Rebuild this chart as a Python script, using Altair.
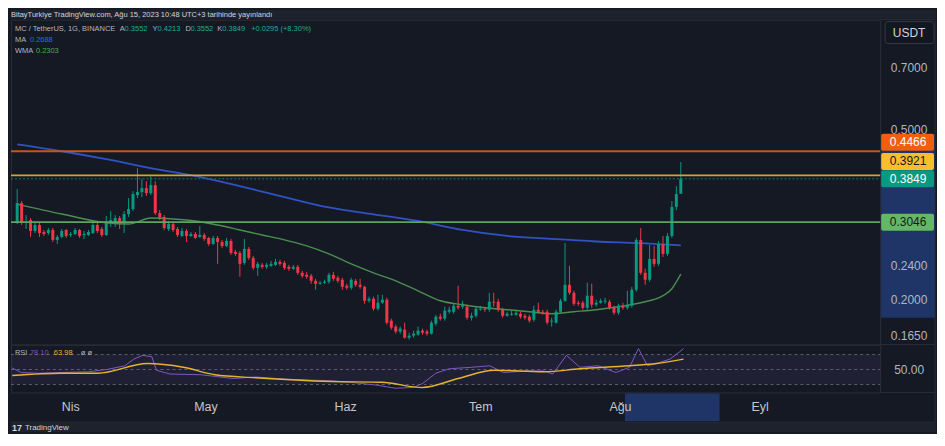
import altair as alt
import pandas as pd
import numpy as np

# ---------------- data ----------------
start_day = "2023-03-19"   # first daily candle

opens = [0.3033, 0.3377, 0.3033, 0.3082, 0.2905, 0.3000, 0.2889, 0.2874, 0.2921, 0.2768,
         0.2813, 0.2921, 0.2843, 0.2858, 0.2921, 0.2843, 0.2843, 0.2874, 0.3000, 0.2936,
         0.2843, 0.3016, 0.3049, 0.3115, 0.3033, 0.3183, 0.3270, 0.3526, 0.3583, 0.3661,
         0.3564, 0.3720, 0.3200, 0.3132, 0.2936, 0.3016, 0.2936, 0.2828, 0.2905, 0.2828,
         0.2858, 0.2813, 0.2843, 0.2798, 0.2709, 0.2798, 0.2738, 0.2680, 0.2753, 0.2595,
         0.2581, 0.2446, 0.2637, 0.2513, 0.2381, 0.2420, 0.2394, 0.2407, 0.2420, 0.2459,
         0.2446, 0.2394, 0.2369, 0.2394, 0.2318, 0.2294, 0.2281, 0.2220, 0.2185, 0.2197,
         0.2209, 0.2294, 0.2257, 0.2233, 0.2162, 0.2139, 0.2220, 0.2173, 0.2150, 0.1994,
         0.2016, 0.1910, 0.1973, 0.2005, 0.1791, 0.1734, 0.1688, 0.1706, 0.1634, 0.1652,
         0.1661, 0.1697, 0.1688, 0.1670, 0.1762, 0.1830, 0.1810, 0.1879, 0.1879, 0.1941,
         0.1931, 0.1931, 0.1820, 0.1839, 0.1900, 0.1910, 0.1900, 0.1983, 0.1983, 0.1900,
         0.1839, 0.1849, 0.1849, 0.1859, 0.1839, 0.1830, 0.1800, 0.1900, 0.1879, 0.1879,
         0.1781, 0.1772, 0.1879, 0.1994, 0.2173, 0.2082, 0.1973, 0.1973, 0.1920, 0.2049,
         0.1952, 0.1973, 0.1983, 0.1983, 0.1920, 0.1869, 0.1941, 0.1920, 0.1941, 0.2116,
         0.2768, 0.2318, 0.2233, 0.2499, 0.2433, 0.2709, 0.2567, 0.2828, 0.3305, 0.3552]

closes = [0.3377, 0.3033, 0.3049, 0.2905, 0.3000, 0.2874, 0.2858, 0.2921, 0.2768, 0.2813,
          0.2905, 0.2828, 0.2858, 0.2921, 0.2828, 0.2858, 0.2889, 0.3000, 0.2905, 0.2843,
          0.3033, 0.3082, 0.3115, 0.3016, 0.3183, 0.3270, 0.3545, 0.3583, 0.3661, 0.3564,
          0.3720, 0.3200, 0.3115, 0.2952, 0.3016, 0.2921, 0.2843, 0.2905, 0.2828, 0.2858,
          0.2798, 0.2843, 0.2783, 0.2709, 0.2798, 0.2738, 0.2680, 0.2753, 0.2581, 0.2567,
          0.2433, 0.2637, 0.2513, 0.2381, 0.2433, 0.2394, 0.2420, 0.2433, 0.2459, 0.2433,
          0.2381, 0.2369, 0.2394, 0.2318, 0.2281, 0.2269, 0.2220, 0.2185, 0.2197, 0.2209,
          0.2294, 0.2245, 0.2220, 0.2150, 0.2139, 0.2233, 0.2173, 0.2150, 0.1994, 0.2016,
          0.1910, 0.1973, 0.2005, 0.1772, 0.1725, 0.1688, 0.1716, 0.1634, 0.1652, 0.1670,
          0.1697, 0.1679, 0.1670, 0.1772, 0.1830, 0.1810, 0.1890, 0.1900, 0.1941, 0.1920,
          0.1962, 0.1820, 0.1839, 0.1910, 0.1910, 0.1900, 0.1983, 0.1973, 0.1900, 0.1839,
          0.1859, 0.1859, 0.1869, 0.1830, 0.1820, 0.1791, 0.1900, 0.1879, 0.1869, 0.1772,
          0.1791, 0.1879, 0.1994, 0.2173, 0.2082, 0.1962, 0.1962, 0.1920, 0.2049, 0.1952,
          0.1973, 0.1994, 0.1994, 0.1920, 0.1869, 0.1941, 0.1920, 0.1952, 0.2116, 0.2768,
          0.2318, 0.2233, 0.2499, 0.2433, 0.2709, 0.2567, 0.2828, 0.3305, 0.3545, 0.3849]

highs = [0.3641, 0.3414, 0.3166, 0.3115, 0.3033, 0.3033, 0.2921, 0.2952, 0.2952, 0.2843,
         0.2936, 0.2936, 0.2889, 0.2952, 0.2936, 0.2905, 0.2921, 0.3066, 0.3033, 0.2968,
         0.3149, 0.3235, 0.3166, 0.3149, 0.3235, 0.3469, 0.3602, 0.4076, 0.3842, 0.3801,
         0.3904, 0.3801, 0.3252, 0.3166, 0.3066, 0.3049, 0.2968, 0.2952, 0.2936, 0.2889,
         0.2889, 0.2984, 0.2874, 0.2813, 0.2828, 0.2828, 0.2768, 0.2798, 0.2783, 0.2623,
         0.2609, 0.2783, 0.2665, 0.2540, 0.2459, 0.2446, 0.2446, 0.2472, 0.2499, 0.2486,
         0.2472, 0.2420, 0.2420, 0.2420, 0.2343, 0.2331, 0.2306, 0.2245, 0.2220, 0.2233,
         0.2318, 0.2331, 0.2281, 0.2257, 0.2185, 0.2257, 0.2245, 0.2245, 0.2162, 0.2038,
         0.2038, 0.2060, 0.2060, 0.2027, 0.1810, 0.1753, 0.1734, 0.1772, 0.1679, 0.1697,
         0.1734, 0.1716, 0.1706, 0.1791, 0.1849, 0.1859, 0.1931, 0.1931, 0.1962, 0.2162,
         0.1994, 0.1952, 0.1869, 0.1931, 0.1941, 0.1931, 0.2082, 0.2082, 0.2016, 0.1920,
         0.1879, 0.1890, 0.1900, 0.1879, 0.1859, 0.1849, 0.1941, 0.1973, 0.1900, 0.1900,
         0.1820, 0.1900, 0.2016, 0.2723, 0.2407, 0.2104, 0.1994, 0.1994, 0.2197, 0.2185,
         0.2005, 0.2016, 0.2027, 0.2005, 0.1941, 0.1962, 0.1973, 0.2104, 0.2150, 0.2798,
         0.2952, 0.2369, 0.2694, 0.2680, 0.2753, 0.2828, 0.2874, 0.3414, 0.3700, 0.4213]

lows = [0.3016, 0.3000, 0.2936, 0.2813, 0.2874, 0.2813, 0.2828, 0.2843, 0.2738, 0.2709,
        0.2798, 0.2798, 0.2813, 0.2843, 0.2798, 0.2783, 0.2828, 0.2858, 0.2874, 0.2813,
        0.2828, 0.2968, 0.2968, 0.2936, 0.2874, 0.3132, 0.3235, 0.3469, 0.3488, 0.3507,
        0.3526, 0.3166, 0.3082, 0.2921, 0.2905, 0.2889, 0.2813, 0.2813, 0.2738, 0.2813,
        0.2783, 0.2798, 0.2753, 0.2680, 0.2694, 0.2433, 0.2651, 0.2665, 0.2553, 0.2540,
        0.2269, 0.2420, 0.2486, 0.2356, 0.2281, 0.2369, 0.2369, 0.2394, 0.2407, 0.2407,
        0.2356, 0.2343, 0.2356, 0.2294, 0.2257, 0.2245, 0.2185, 0.2116, 0.2173, 0.2185,
        0.2185, 0.2220, 0.2197, 0.2116, 0.2116, 0.2116, 0.2150, 0.2127, 0.1962, 0.1973,
        0.1890, 0.1890, 0.1962, 0.1753, 0.1706, 0.1670, 0.1670, 0.1626, 0.1617, 0.1634,
        0.1652, 0.1661, 0.1652, 0.1661, 0.1743, 0.1791, 0.1791, 0.1859, 0.1859, 0.1900,
        0.1910, 0.1800, 0.1791, 0.1820, 0.1890, 0.1879, 0.1879, 0.1931, 0.1879, 0.1820,
        0.1830, 0.1839, 0.1839, 0.1810, 0.1800, 0.1772, 0.1781, 0.1859, 0.1849, 0.1753,
        0.1734, 0.1762, 0.1869, 0.1983, 0.2060, 0.1941, 0.1941, 0.1900, 0.1900, 0.1920,
        0.1931, 0.1962, 0.1962, 0.1900, 0.1849, 0.1849, 0.1900, 0.1900, 0.1920, 0.2093,
        0.2294, 0.2173, 0.2209, 0.2394, 0.2407, 0.2526, 0.2540, 0.2798, 0.3252, 0.3552]

# moving averages (day index since start, value)
ma_idx = [0, 10, 20, 30, 40, 50, 60, 70, 80, 90, 100, 110, 120, 130, 140, 149]
ma_vals = [0.4637, 0.4466, 0.4278, 0.4076, 0.3904, 0.3700, 0.3488, 0.3298, 0.3178, 0.3066,
           0.2921, 0.2828, 0.2783, 0.2745, 0.2720, 0.2688]
wma_idx = [0, 10, 20, 25, 30, 35, 40, 45, 50, 55, 60, 65, 70, 75, 80, 85, 90, 95, 100, 105,
           110, 115, 120, 125, 130, 135, 140, 145, 147, 148, 149]
wma_vals = [0.3359, 0.3183, 0.3036, 0.3016, 0.3115, 0.3099, 0.3066, 0.3000, 0.2921, 0.2843,
            0.2768, 0.2680, 0.2567, 0.2433, 0.2318, 0.2220, 0.2104, 0.1994, 0.1952, 0.1920,
            0.1900, 0.1879, 0.1859, 0.1879, 0.1900, 0.1931, 0.1973, 0.2049, 0.2127, 0.2209, 0.2303]

# RSI pane
rsi_idx = [0, 2, 6, 11, 17, 21, 25, 27, 29, 31, 32, 35, 42, 49, 54, 61, 70, 75, 81, 85,
           89, 91, 94, 97, 102, 106, 109, 114, 118, 120, 123, 126, 130, 134, 137, 139, 141, 143, 146, 148, 149]
rsi_vals = [52, 46, 45, 46, 47, 50, 55, 64, 69, 67, 49, 44, 43, 38, 40, 37, 35, 33, 29, 25,
            26, 31, 45, 51, 53, 55, 46, 48, 48, 44, 69, 53, 55, 46, 53, 78, 55, 58, 64, 73, 78.1]
rsima_idx = [0, 11, 19, 30, 38, 45, 54, 71, 82, 91, 99, 107, 118, 126, 137, 143, 149]
rsima_vals = [42, 45, 45, 58, 53, 43, 39, 34, 33, 26, 38, 49, 47, 51, 55, 58, 63.98]
rsi_levels = [70, 50, 30]

# horizontal drawn levels + price badges
level_prices = [0.4466, 0.3921, 0.3849, 0.3046]
level_line_colors = ["#c4561c", "#d3a52a", "#0b7f6d", "#5ea561"]
badge_fills = ["#ef5f0e", "#f9bd2e", "#089981", "#64b767"]
badge_text_colors = ["#ffffff", "#131722", "#ffffff", "#131722"]

# axes
price_ticks = [0.7, 0.5, 0.24, 0.2, 0.165]
price_tick_labels = ["0.7000", "0.5000", "0.2400", "0.2000", "0.1650"]
month_starts = ["2023-04-01", "2023-05-01", "2023-06-01", "2023-07-01", "2023-08-01", "2023-09-01"]
month_labels = ["Nis", "May", "Haz", "Tem", "Ağu", "Eyl"]

# selected drawing range (highlight on the axes)
sel_dates = ["2023-08-02", "2023-08-23"]
sel_prices = [0.1820, 0.4894]

# ---------------- helpers ----------------
def ms(d):
    return int(pd.Timestamp(d).timestamp() * 1000)

dates = pd.date_range(start_day, periods=len(opens), freq="D")
date_ms = [ms(d) for d in dates]

FONT = "Liberation Sans"
BG = "#151924"
OUTER = "#1e222d"
GRID = "#1f2330"
BORDER = "#2a2e39"
TXT = "#b2b5be"
UP, DOWN = "#089981", "#f23645"

W, H_PRICE, H_RSI = 872, 326, 48

apr1 = pd.Timestamp("2023-04-01")
xdom = [int((apr1 - pd.Timedelta(days=13.274)).timestamp() * 1000),
        int((apr1 + pd.Timedelta(days=179.646)).timestamp() * 1000)]
xscale = alt.Scale(type="utc", domain=xdom, nice=False)
yscale = alt.Scale(type="log", domain=[0.1574, 0.9082], nice=False)
rscale = alt.Scale(domain=[19.33, 83.33], nice=False, zero=False)

month_ms = [ms(d) for d in month_starts]
dummy = pd.DataFrame({"k": [0]})


def xenc(field="date"):
    return alt.X(f"{field}:T", scale=xscale, axis=None, title=None)


def txt(text, x, y, color, size=7.5, weight="normal", align="left"):
    return alt.Chart(dummy).mark_text(
        text=text, color=color, fontSize=size, fontWeight=weight, align=align,
        baseline="middle", font=FONT
    ).encode(x=alt.value(x), y=alt.value(y))


def box(x, x2, y, y2, fill, stroke=None, radius=0):
    kw = dict(fill=fill, cornerRadius=radius)
    if stroke:
        kw.update(stroke=stroke, strokeWidth=1)
    return alt.Chart(dummy).mark_rect(**kw).encode(
        x=alt.value(x), x2=alt.value(x2), y=alt.value(y), y2=alt.value(y2))


def hline(x, x2, y, color=BORDER):
    return alt.Chart(dummy).mark_rule(color=color, strokeWidth=1).encode(
        x=alt.value(x), x2=alt.value(x2), y=alt.value(y))


# ---------------- price pane ----------------
candles = pd.DataFrame({"date": date_ms, "open": opens, "high": highs,
                        "low": lows, "close": closes})
candles["dir"] = np.where(candles["close"] >= candles["open"], "up", "down")
color = alt.Color("dir:N", scale=alt.Scale(domain=["up", "down"], range=[UP, DOWN]), legend=None)

wicks = alt.Chart(candles).mark_rule(strokeWidth=1).encode(
    x=alt.X("date:T", scale=xscale, title=None,
            axis=alt.Axis(values=month_ms, labels=False, ticks=False, domain=False,
                          grid=True, gridColor=GRID, gridWidth=1, title=None)),
    y=alt.Y("low:Q", scale=yscale, title=None,
            axis=alt.Axis(values=price_ticks, labels=False, ticks=False, domain=False,
                          grid=True, gridColor=GRID, gridWidth=1, title=None, orient="right")),
    y2="high:Q",
    color=color,
)
bodies = alt.Chart(candles).mark_bar(size=3).encode(
    x=xenc(), y=alt.Y("open:Q", scale=yscale, axis=None), y2="close:Q", color=color)

ma_df = pd.DataFrame({"date": [date_ms[i] for i in ma_idx], "v": ma_vals})
wma_df = pd.DataFrame({"date": [date_ms[i] for i in wma_idx], "v": wma_vals})
ma_line = alt.Chart(ma_df).mark_line(color="#2f52c4", strokeWidth=1.8, interpolate="monotone").encode(
    x=xenc(), y=alt.Y("v:Q", scale=yscale, axis=None))
wma_line = alt.Chart(wma_df).mark_line(color="#4a8f50", strokeWidth=1.4, interpolate="monotone").encode(
    x=xenc(), y=alt.Y("v:Q", scale=yscale, axis=None))

sel_df = pd.DataFrame({"p1": [sel_prices[0]], "p2": [sel_prices[1]],
                       "d1": [ms(sel_dates[0])], "d2": [ms(sel_dates[1])]})
price_sel = alt.Chart(sel_df).mark_rect(fill="#1f3568").encode(
    x=alt.value(873), x2=alt.value(927),
    y=alt.Y("p2:Q", scale=yscale, axis=None), y2="p1:Q")

level_layers = []
badge_shift = [-9, -14, 0, 0]
for p, lc, i in zip(level_prices, level_line_colors, range(4)):
    df = pd.DataFrame({"p": [p]})
    if i == 2:
        mk = alt.Chart(df).mark_rule(color=lc, strokeWidth=1, strokeDash=[2, 2])
    else:
        mk = alt.Chart(df).mark_rule(color=lc, strokeWidth=1.8)
    level_layers.append(mk.encode(x=alt.value(0), x2=alt.value(W),
                                  y=alt.Y("p:Q", scale=yscale, axis=None)))

tick_df = pd.DataFrame({"p": price_ticks, "t": price_tick_labels})
tick_text = alt.Chart(tick_df).mark_text(color=TXT, fontSize=12, font=FONT, align="center",
                                         baseline="middle").encode(
    x=alt.value(901), y=alt.Y("p:Q", scale=yscale, axis=None), text="t:N")

badge_layers = []
for p, f, tc, sh in zip(level_prices, badge_fills, badge_text_colors, badge_shift):
    df = pd.DataFrame({"p": [p], "t": [f"{p:.4f}"]})
    badge_layers.append(alt.Chart(df).mark_rect(fill=f, cornerRadius=2, yOffset=sh - 8.5,
                                                y2Offset=sh + 8.5).encode(
        x=alt.value(873), x2=alt.value(926), y=alt.Y("p:Q", scale=yscale, axis=None), y2="p:Q"))
    badge_layers.append(alt.Chart(df).mark_text(color=tc, fontSize=12, font=FONT, align="center",
                                                baseline="middle", dy=sh).encode(
        x=alt.value(900), y=alt.Y("p:Q", scale=yscale, axis=None), text="t:N"))

TEAL = "#22ab94"
legend_layers = [
    box(0, 928, -10, -1, OUTER),
    txt("BitayTurkiye TradingView.com, Ağu 15, 2023 10:48 UTC+3 tarihinde yayınlandı",
        0, -5, "#d1d4dc", size=7.5),
    txt("MC / TetherUS, 1G, BINANCE", 4, 9, TXT),
    txt("A", 109, 9, TXT), txt("0.3552", 114, 9, TEAL),
    txt("Y", 142, 9, TXT), txt("0.4213", 147, 9, TEAL),
    txt("D", 175, 9, TXT), txt("0.3552", 180, 9, TEAL),
    txt("K", 207, 9, TXT), txt("0.3849", 212, 9, TEAL),
    txt("+0.0295 (+8.30%)", 241, 9, TEAL),
    txt("MA", 4, 20, TXT), txt("0.2688", 19, 20, "#2962ff"),
    txt("WMA", 4, 31, TXT), txt("0.2303", 25, 31, "#4caf50"),
    box(877, 926, 2, 24, "#131722", stroke="#363a45", radius=3),
    txt("USDT", 901, 13, "#d1d4dc", size=12, align="center"),
    hline(872, 927, 0), hline(872, 927, H_PRICE),
    alt.Chart(dummy).mark_rule(color=BORDER).encode(
        x=alt.value(927), y=alt.value(0), y2=alt.value(H_PRICE)),
]

price = alt.layer(
    wicks, price_sel, ma_line, wma_line, bodies, *level_layers, tick_text,
    *badge_layers, *legend_layers
).properties(width=W, height=H_PRICE)

# ---------------- RSI pane ----------------
band = alt.Chart(pd.DataFrame({"a": [70], "b": [30]})).mark_rect(fill="#7e57c2", opacity=0.11).encode(
    x=alt.value(0), x2=alt.value(W), y=alt.Y("a:Q", scale=rscale, axis=None), y2="b:Q")
lev_df = pd.DataFrame({"v": rsi_levels, "kind": ["o", "m", "o"]})
rlines = alt.Chart(lev_df).mark_rule(color="#787b86", strokeWidth=1, strokeDash=[3, 3], opacity=0.7).encode(
    x=alt.value(0), x2=alt.value(W), y=alt.Y("v:Q", scale=rscale, axis=None))

rsi_df = pd.DataFrame({"date": [date_ms[i] for i in rsi_idx], "v": rsi_vals})
rsima_df = pd.DataFrame({"date": [date_ms[i] for i in rsima_idx], "v": rsima_vals})
rsi_line = alt.Chart(rsi_df).mark_line(color="#7e57c2", strokeWidth=1).encode(
    x=alt.X("date:T", scale=xscale, title=None,
            axis=alt.Axis(values=month_ms, labels=False, ticks=False, domain=False,
                          grid=True, gridColor=GRID, title=None)),
    y=alt.Y("v:Q", scale=rscale, axis=None))
rsima_line = alt.Chart(rsima_df).mark_line(color="#e3b52c", strokeWidth=1.4, interpolate="monotone").encode(
    x=xenc(), y=alt.Y("v:Q", scale=rscale, axis=None))

time_sel = alt.Chart(sel_df).mark_rect(fill="#1f3568").encode(
    x=alt.X("d1:T", scale=xscale, axis=None), x2="d2:T", y=alt.value(49), y2=alt.value(77))

month_df = pd.DataFrame({"d": month_ms, "t": month_labels})
month_text = alt.Chart(month_df).mark_text(color="#c3c6ce", fontSize=12.5, font=FONT, align="center",
                                           baseline="middle").encode(
    x=alt.X("d:T", scale=xscale, axis=None), y=alt.value(63), text="t:N")

rsi_label = alt.Chart(pd.DataFrame({"v": [50], "t": ["50.00"]})).mark_text(
    color=TXT, fontSize=12, font=FONT, align="center", baseline="middle").encode(
    x=alt.value(901), y=alt.Y("v:Q", scale=rscale, axis=None), text="t:N")

rsi_extras = [
    txt("RSI", 4, 8, TXT, size=7.5), txt("78.10", 19, 8, "#7e57c2", size=7.5),
    txt("63.98", 43, 8, "#e3b52c", size=7.5), txt("ø  ø", 70, 8, TXT, size=7.5),
    hline(872, 927, H_RSI),
    hline(0, 927, 78),
    alt.Chart(dummy).mark_rule(color=BORDER).encode(
        x=alt.value(927), y=alt.value(0), y2=alt.value(78)),
    box(0, 928, 78.5, 88, OUTER),
    txt("17", 1, 83.5, "#d1d4dc", size=9, weight="bold"),
    txt("TradingView", 14, 83.5, "#d1d4dc", size=8),
]

rsi = alt.layer(
    band, rlines, time_sel, rsi_line, rsima_line, month_text, rsi_label, *rsi_extras
).properties(width=W, height=H_RSI)

chart = alt.vconcat(price, rsi, spacing=0, bounds="flush").properties(
    padding={"left": 0, "right": 0, "top": 0, "bottom": 0}
).configure(background=BG, font=FONT).configure_view(stroke=BORDER, strokeWidth=1)

chart.save("out.html", embed_options={"renderer": "svg", "actions": False})
